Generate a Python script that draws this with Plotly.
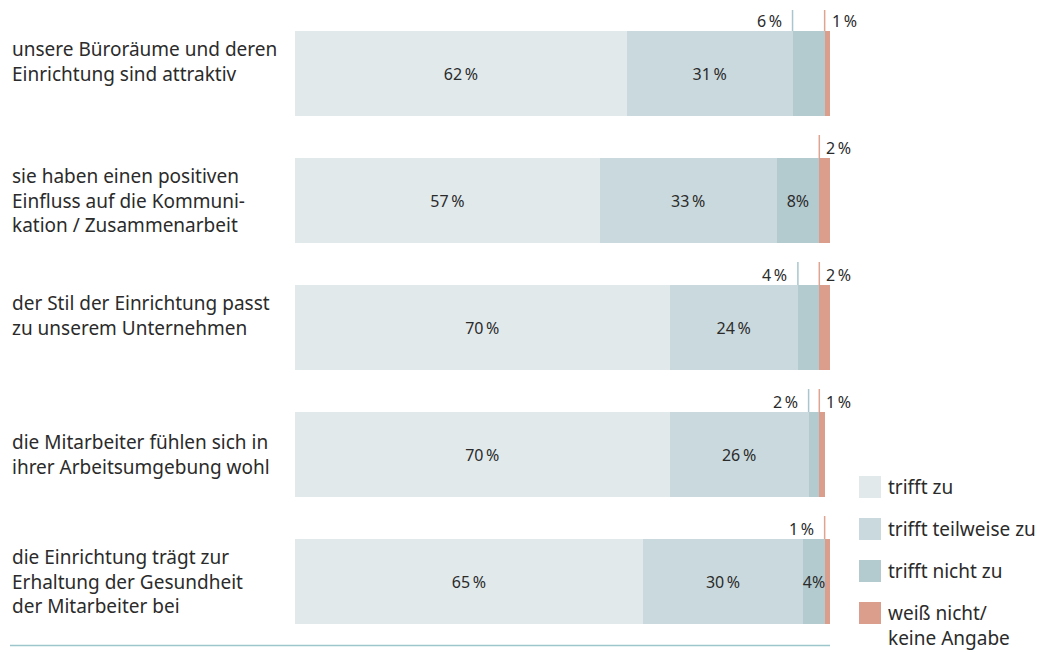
import plotly.graph_objects as go

W, H = 1052, 652

categories = [
    "unsere Büroräume und deren<br>Einrichtung sind attraktiv<br> ",
    "sie haben einen positiven<br>Einfluss auf die Kommuni-<br>kation / Zusammenarbeit",
    "der Stil der Einrichtung passt<br>zu unserem Unternehmen<br> ",
    "die Mitarbeiter fühlen sich in<br>ihrer Arbeitsumgebung wohl",
    "die Einrichtung trägt zur<br>Erhaltung der Gesundheit<br>der Mitarbeiter bei",
]
series_names = ["trifft zu", "trifft teilweise zu", "trifft nicht zu", "weiß nicht/<br>keine Angabe"]
trifft_zu = [62, 57, 70, 70, 65]
teilweise = [31, 33, 24, 26, 30]
nicht_zu = [6, 8, 4, 2, 4]
weiss_nicht = [1, 2, 2, 1, 1]

# label placement: "in" = inside bar, "left"/"right" = above bar with leader line
nicht_mode = ["left", "in", "left", "left", "in"]
weiss_mode = ["right", "right", "right", "right", "left"]

colors = ["#e1e9eb", "#cad9dd", "#b3cacf", "#dc9e8c"]
line_colors = ["#e1e9eb", "#cad9dd", "#a9c6cf", "#e0a391"]
FONT = "Noto Sans"
TXT = "#2b2b2b"

ycat = list(range(len(categories)))
fig = go.Figure()

def fmt(v, tight=False):
    return f"{v}%" if tight else f"{v}\u2009%"

all_series = [trifft_zu, teilweise, nicht_zu, weiss_nicht]
for k, vals in enumerate(all_series):
    texts = []
    for i, v in enumerate(vals):
        if k < 2:
            texts.append(fmt(v))
        elif k == 2:
            texts.append(fmt(v, True) if nicht_mode[i] == "in" else "")
        else:
            texts.append("")
    fig.add_trace(go.Bar(
        y=ycat, x=vals, orientation="h", name=series_names[k],
        marker=dict(color=colors[k], line=dict(width=0)),
        text=texts, textposition="inside", insidetextanchor="middle",
        textangle=0, constraintext="none",
        textfont=dict(family=FONT, size=16, color=TXT),
        hoverinfo="skip", showlegend=False,
    ))

bargap = 1 - 85 / 127
half = (1 - bargap) / 2
lead = 23 / 127
lab = 10 / 127

shapes = []
annotations = []
for i in ycat:
    cum = trifft_zu[i] + teilweise[i]
    items = []
    if nicht_mode[i] != "in":
        items.append((cum, nicht_zu[i], nicht_mode[i], line_colors[2]))
    items.append((cum + nicht_zu[i], weiss_nicht[i], weiss_mode[i], line_colors[3]))
    for x0, v, side, lc in items:
        shapes.append(dict(type="line", xref="x", yref="y", x0=x0, x1=x0,
                           y0=i - half, y1=i - half - lead,
                           line=dict(color=lc, width=1.5)))
        annotations.append(dict(
            xref="x", yref="y", x=x0, y=i - half - lab,
            text=fmt(v), showarrow=False,
            xanchor="right" if side == "left" else "left",
            xshift=-9 if side == "left" else 5,
            yanchor="middle",
            font=dict(family=FONT, size=16, color=TXT)))
    annotations.append(dict(
        xref="paper", yref="y", x=10 / W, y=i, text=categories[i],
        showarrow=False, xanchor="left", yanchor="middle", align="left",
        font=dict(family=FONT, size=19, color=TXT)))

# bottom rule
shapes.append(dict(type="line", xref="paper", yref="paper",
                   x0=10 / W, x1=830 / W, y0=(H - 645.5) / H, y1=(H - 645.5) / H,
                   line=dict(color="#9cc6cc", width=1.5)))

# legend (drawn)
leg_tops = [476, 518, 560, 602]
for k, top in enumerate(leg_tops):
    shapes.append(dict(type="rect", xref="paper", yref="paper",
                       x0=859 / W, x1=881 / W, y0=(H - top - 22) / H, y1=(H - top) / H,
                       fillcolor=colors[k], line=dict(width=0)))
    annotations.append(dict(
        xref="paper", yref="paper", x=887 / W, y=(H - top + 3) / H,
        text=series_names[k], showarrow=False, xanchor="left", yanchor="top",
        align="left", borderpad=0,
        font=dict(family=FONT, size=19, color=TXT)))

fig.update_layout(
    width=W, height=H, margin=dict(l=0, r=0, t=0, b=0),
    paper_bgcolor="white", plot_bgcolor="white",
    barmode="stack", bargap=bargap,
    xaxis=dict(range=[0, 100], domain=[295 / W, 830 / W], visible=False, fixedrange=True),
    yaxis=dict(range=[4.5, -0.5], domain=[7 / H, 642 / H], visible=False, fixedrange=True),
    shapes=shapes, annotations=annotations,
    font=dict(family=FONT, color=TXT),
)

fig.write_html("out.html")
